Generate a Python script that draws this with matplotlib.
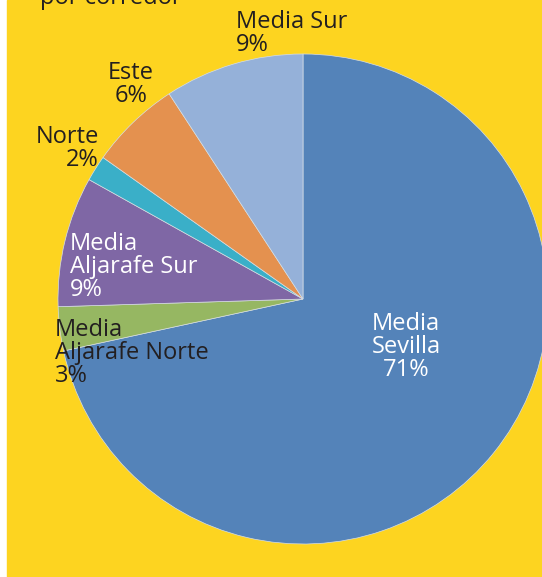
import matplotlib.pyplot as plt
from matplotlib.patches import Rectangle

# Trip shares by corridor (clockwise from 12 o'clock)
labels = ["Media\nSevilla", "Media\nAljarafe Norte", "Media\nAljarafe Sur",
          "Norte", "Este", "Media Sur"]
shares = [71.6, 2.9, 8.6, 1.7, 6.0, 9.2]
printed = ["71%", "3%", "9%", "2%", "6%", "9%"]  # as printed on the chart
colors = ["#5483B9", "#96B762", "#7F67A5", "#3AAFC8", "#E4914F", "#95B1D9"]

W, H = 542, 577
yellow = "#FDD420"
dark = "#231F20"

fig = plt.figure(figsize=(W / 100, H / 100), dpi=100, facecolor="white")
ax = fig.add_axes([0, 0, 1, 1])

# yellow panel, white strip on the left
ax.add_patch(Rectangle((7, 0), W - 7, H, color=yellow, zorder=0))

ax.pie(shares, colors=colors, startangle=90, counterclock=False,
       center=(303, H - 299), radius=245, frame=True,
       wedgeprops=dict(linewidth=0.5, edgecolor="#d5dde6"))
ax.set_xlim(0, W)
ax.set_ylim(0, H)
ax.axis("off")

font = "Open Sans"
fs = 17

# label placement: (x, y_top, ha, color)
place = [
    (406, 312, "center", "white"),
    (55, 318, "left", dark),
    (70, 232, "left", "white"),
    (99, 125, "right", dark),
    (131, 61, "center", dark),
    (236, 10, "left", dark),
]
for lab, p, (x, y, ha, c) in zip(labels, printed, place):
    ax.text(x, H - y, f"{lab}\n{p}", ha=ha, va="top", multialignment=ha,
            color=c, fontsize=fs, family=font, linespacing=0.95)

# title cut off at the top edge
ax.text(40, H - 4, "por corredor", ha="left", va="baseline",
        color=dark, fontsize=fs, family=font)

fig.savefig("out.png", dpi=100, facecolor="white")
